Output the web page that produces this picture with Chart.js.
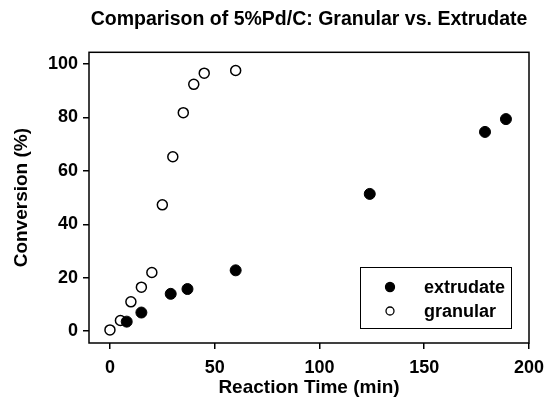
<!DOCTYPE html>
<html>
<head>
<meta charset="utf-8">
<script src="https://cdn.jsdelivr.net/npm/chart.js@4.4.1/dist/chart.umd.min.js"></script>
<style>
  html, body { margin: 0; padding: 0; background: #fff; }
  #wrap { width: 546px; height: 409px; }
</style>
</head>
<body>
<div id="wrap"><canvas id="chart"></canvas></div>
<script>
// data
var extrudateTime = [8, 15, 29, 37, 60, 124, 179, 189];
var extrudateConv = [3.6, 7, 14, 15.8, 22.8, 51.4, 74.6, 79.4];
var granularTime = [0, 5, 10, 15, 20, 25, 30, 35, 40, 45, 60];
var granularConv = [0.5, 4, 11, 16.5, 22, 47.3, 65.3, 81.8, 92.4, 96.6, 97.6];
var xTicks = [0, 50, 100, 150, 200];
var yTicks = [0, 20, 40, 60, 80, 100];

function toPoints(xs, ys) {
	var pts = [];
	for (var i in xs) {
		pts.push({x: xs[i], y: ys[i]});
	}
	return pts;
}

var font = "'Liberation Sans', Arial, sans-serif";

// box round the plot area and the legend inside it
var boxPlugin = {
	id: 'box',
	afterDraw: function(chart) {
		var ctx = chart.ctx;
		var a = chart.chartArea;
		ctx.save();
		ctx.strokeStyle = '#000';
		ctx.lineWidth = 1.5;
		ctx.strokeRect(a.left, a.top, a.right - a.left, a.bottom - a.top);

		// legend
		var lx = 360, ly = 267, lw = 151, lh = 61;
		ctx.lineWidth = 1;
		ctx.strokeRect(lx + 0.5, ly + 0.5, lw, lh);
		ctx.font = "bold 18px " + font;
		ctx.textBaseline = 'middle';
		ctx.fillStyle = '#000';
		chart.data.datasets.forEach(function(ds, i) {
			var cy = ly + 20 + i * 24;
			ctx.beginPath();
			ctx.arc(lx + 30, cy, i == 0 ? 4.5 : 4, 0, Math.PI * 2);
			ctx.fillStyle = ds.backgroundColor;
			ctx.fill();
			ctx.lineWidth = 1.3;
			ctx.strokeStyle = '#000';
			ctx.stroke();
			ctx.fillStyle = '#000';
			ctx.fillText(ds.label, lx + 64, cy + 1);
		});
		ctx.restore();
	}
};

var chartdata = {
	datasets: [
		{
			label: 'extrudate',
			data: toPoints(extrudateTime, extrudateConv),
			backgroundColor: '#000',
			borderColor: '#000',
			pointRadius: 5.5,
			pointBorderWidth: 1
		},
		{
			label: 'granular',
			data: toPoints(granularTime, granularConv),
			backgroundColor: '#fff',
			borderColor: '#000',
			pointRadius: 5,
			pointBorderWidth: 1.5
		}
	]
};

var ctx = document.getElementById('chart');

var scatter = new Chart(ctx, {
	type: 'scatter',
	data: chartdata,
	plugins: [boxPlugin],
	options: {
		responsive: true,
		maintainAspectRatio: false,
		animation: false,
		layout: { padding: { left: 0, right: 17, top: 0, bottom: 0 } },
		plugins: {
			legend: { display: false },
			tooltip: { enabled: false },
			title: {
				display: true,
				fullSize: false,
				text: 'Comparison of 5%Pd/C: Granular vs. Extrudate',
				color: '#000',
				font: { family: font, size: 19.5, weight: 'bold', lineHeight: 1.2 },
				padding: { top: 8.3, bottom: 20.6 }
			}
		},
		scales: {
			x: {
				type: 'linear',
				min: -10,
				max: 200,
				afterBuildTicks: function(scale) {
					scale.ticks = xTicks.map(function(v) { return {value: v}; });
				},
				afterFit: function(scale) {
					scale.height = 66;
					scale.paddingLeft = 0;
					scale.paddingRight = 0;
				},
				border: { display: false },
				grid: { drawOnChartArea: false, color: '#000', lineWidth: 1.5, tickLength: 6 },
				ticks: { color: '#000', font: { family: font, size: 18, weight: 'bold' }, padding: 8, maxRotation: 0 },
				title: {
					display: true,
					text: 'Reaction Time (min)',
					color: '#000',
					font: { family: font, size: 19, weight: 'bold' },
					padding: { top: 0, bottom: 10 }
				}
			},
			y: {
				type: 'linear',
				min: -4.4,
				max: 104.4,
				afterBuildTicks: function(scale) {
					scale.ticks = yTicks.map(function(v) { return {value: v}; });
				},
				afterFit: function(scale) {
					scale.width = 89;
					scale.paddingTop = 0;
					scale.paddingBottom = 0;
				},
				border: { display: false },
				grid: { drawOnChartArea: false, color: '#000', lineWidth: 1.5, tickLength: 6 },
				ticks: { color: '#000', font: { family: font, size: 18, weight: 'bold' }, padding: 5 },
				title: {
					display: true,
					text: 'Conversion (%)',
					color: '#000',
					font: { family: font, size: 19, weight: 'bold' },
					padding: { top: 10.6, bottom: 0 }
				}
			}
		}
	}
});
</script>
</body>
</html>
